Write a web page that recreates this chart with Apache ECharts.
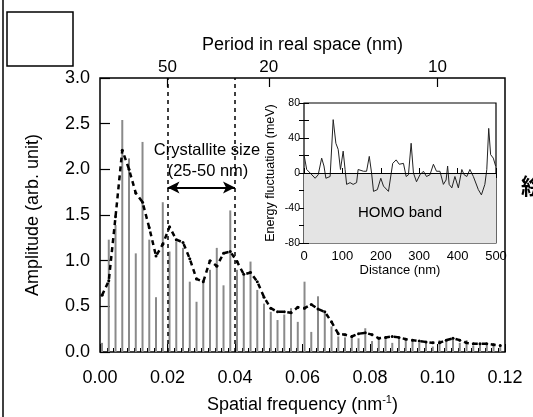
<!DOCTYPE html>
<html>
<head>
<meta charset="utf-8">
<script src="https://cdn.jsdelivr.net/npm/echarts@6/dist/echarts.min.js"></script>
<style>
  html, body { margin: 0; padding: 0; background: #fff; }
  #chart { width: 533px; height: 417px; }
</style>
</head>
<body>
<div id="chart"></div>
<script>
// spatial frequency of each bar (nm^-1)
var freq = [0.0006, 0.0026, 0.0046, 0.0066, 0.0086, 0.0106, 0.0126, 0.0146, 0.0166, 0.0186,
            0.0206, 0.0226, 0.0246, 0.0266, 0.0286, 0.0306, 0.0326, 0.0346, 0.0366, 0.0386,
            0.0406, 0.0426, 0.0446, 0.0466, 0.0486, 0.0506, 0.0526, 0.0546, 0.0566, 0.0586,
            0.0606, 0.0626, 0.0646, 0.0666, 0.0686, 0.0706, 0.0726, 0.0746, 0.0766, 0.0786,
            0.0806, 0.0826, 0.0846, 0.0866, 0.0886, 0.0906, 0.0926, 0.0946, 0.0966, 0.0986,
            0.1006, 0.1026, 0.1046, 0.1066, 0.1086, 0.1106, 0.1126, 0.1146, 0.1166, 0.1186];
// raw amplitude (bars)
var amp = [0.10, 1.23, 1.39, 2.54, 2.12, 1.08, 2.30, 1.23, 0.60, 1.64,
           1.10, 1.21, 1.14, 0.77, 0.55, 0.77, 0.90, 1.14, 0.73, 1.55,
           0.90, 0.84, 0.99, 0.68, 0.53, 0.44, 0.35, 0.41, 0.48, 0.33,
           0.77, 0.22, 0.61, 0.44, 0.28, 0.17, 0.16, 0.16, 0.15, 0.26,
           0.12, 0.14, 0.16, 0.10, 0.15, 0.12, 0.14, 0.10, 0.12, 0.06,
           0.13, 0.14, 0.16, 0.10, 0.13, 0.07, 0.10, 0.08, 0.09, 0.07];
// smoothed amplitude (dashed curve)
var smooth = [0.62, 0.78, 1.48, 2.21, 2.00, 1.74, 1.64, 1.36, 1.05, 1.18,
              1.37, 1.23, 1.20, 1.02, 0.80, 0.77, 1.00, 0.94, 1.08, 1.10,
              0.99, 0.85, 0.87, 0.77, 0.60, 0.48, 0.44, 0.44, 0.43, 0.49,
              0.48, 0.52, 0.47, 0.44, 0.33, 0.20, 0.19, 0.17, 0.20, 0.21,
              0.19, 0.15, 0.16, 0.17, 0.16, 0.14, 0.13, 0.12, 0.11, 0.10,
              0.10, 0.13, 0.15, 0.13, 0.10, 0.09, 0.09, 0.09, 0.08, 0.07];
// period ticks on the top axis (nm)
var periodTicks = [50, 20, 10];
// crystallite size range as frequency
var crystRange = [0.02, 0.04];

// inset: HOMO band energy fluctuation
var dist = [0, 7, 16, 29, 37, 46, 52, 57, 68, 76, 83, 89, 95, 102, 107, 111, 120, 128, 137, 141,
            155, 163, 170, 176, 181, 191, 200, 207, 220, 224, 231, 240, 248, 259, 266, 272, 279, 285, 293, 302,
            311, 319, 328, 337, 345, 354, 363, 370, 374, 378, 385, 393, 402, 411, 417, 424, 432, 441, 454, 462,
            471, 476, 481, 486, 493, 499];
var energy = [21, 4, 0, -6, -2, 17, 8, -6, -4, 61, 34, 27, 4, 25, 4, -13, -11, -13, -11, 4,
              2, 2, 19, 0, -21, -19, -6, -15, -21, -21, 11, 15, 10, 11, -4, -2, 34, 0, -10, -2,
              2, -4, -2, 10, 2, 2, -13, -8, 8, -13, -17, -4, -17, 4, -2, -4, 4, -4, -19, -25,
              -13, 4, 51, 21, 17, 8];

var FONT = 'Liberation Sans';
var chart = echarts.init(document.getElementById('chart'));

var barData = freq.map(function (f, i) { return [f, amp[i]]; });
var smoothData = freq.map(function (f, i) { return [f, smooth[i]]; });
var homoData = dist.map(function (d, i) { return [d, energy[i]]; });
var periodFreq = periodTicks.map(function (p) { return 1 / p; });

chart.setOption({
  backgroundColor: '#fff',
  animation: false,
  textStyle: { fontFamily: FONT, color: '#000' },
  grid: [
    { left: 100, right: 28, top: 78, bottom: 65, outerBoundsMode: 'none', containLabel: false,
      show: true, borderColor: '#000', borderWidth: 1.5, backgroundColor: 'transparent' },
    { left: 304, top: 103, width: 192, height: 140, outerBoundsMode: 'none', containLabel: false,
      show: true, borderColor: '#000', borderWidth: 1.2, backgroundColor: '#fff' }
  ],
  xAxis: [
    {
      type: 'value', gridIndex: 0, min: 0, max: 0.12, interval: 0.02,
      axisLine: { show: false }, splitLine: { show: false },
      axisTick: { inside: true, length: 8, lineStyle: { color: '#000', width: 1 } },
      minorTick: { show: true, splitNumber: 10, length: 4, lineStyle: { color: '#000' } },
      axisLabel: { fontSize: 18, color: '#000', margin: 17, formatter: function (v) { return v.toFixed(2); } },
      name: 'Spatial frequency (nm{sup|-1})', nameLocation: 'middle', nameGap: 42,
      nameTextStyle: { fontSize: 18, color: '#000', rich: { sup: { fontSize: 11, verticalAlign: 'top', padding: [0, 0, 12, 0] } } }
    },
    {
      type: 'value', gridIndex: 0, position: 'top', min: 0, max: 0.12,
      axisLine: { show: false }, splitLine: { show: false },
      axisTick: { inside: true, length: 9, customValues: periodFreq, lineStyle: { color: '#000', width: 1.2 } },
      axisLabel: { fontSize: 17, color: '#000', margin: 2, customValues: periodFreq,
                   formatter: function (v) { return String(Math.round(1 / v)); } },
      name: 'Period in real space (nm)', nameLocation: 'middle', nameGap: 20,
      nameTextStyle: { fontSize: 18, color: '#000' }
    },
    {
      type: 'value', gridIndex: 1, min: 0, max: 500, interval: 100,
      axisLine: { show: false }, splitLine: { show: false },
      axisTick: { inside: true, length: 5, lineStyle: { color: '#000' } },
      axisLabel: { fontSize: 13, color: '#000', margin: 7 },
      name: 'Distance (nm)', nameLocation: 'middle', nameGap: 20,
      nameTextStyle: { fontSize: 13, color: '#000' }
    },
    {
      type: 'value', gridIndex: 1, position: 'top', min: 0, max: 500, interval: 100,
      axisLine: { show: false }, splitLine: { show: false },
      axisTick: { inside: true, length: 5, lineStyle: { color: '#000' } },
      axisLabel: { show: false }
    }
  ],
  yAxis: [
    {
      type: 'value', gridIndex: 0, min: 0, max: 3, interval: 0.5,
      axisLine: { show: false }, splitLine: { show: false },
      axisTick: { inside: true, length: 10, lineStyle: { color: '#000', width: 1.2 } },
      axisLabel: { fontSize: 18, color: '#000', margin: 10, formatter: function (v) { return v.toFixed(1); } },
      name: 'Amplitude (arb. unit)', nameLocation: 'middle', nameGap: 58,
      nameTextStyle: { fontSize: 18, color: '#000' }
    },
    {
      type: 'value', gridIndex: 1, min: -80, max: 80, interval: 20,
      axisLine: { show: false }, splitLine: { show: false },
      axisTick: { inside: true, length: 5, lineStyle: { color: '#000' } },
      axisLabel: { fontSize: 10.5, color: '#000', margin: 4, formatter: function (v) { return v % 40 === 0 ? String(v) : ''; } },
      name: 'Energy fluctuation (meV)', nameLocation: 'middle', nameGap: 27,
      nameTextStyle: { fontSize: 12.5, color: '#000' }
    },
    {
      type: 'value', gridIndex: 1, position: 'right', min: -80, max: 80, interval: 20,
      axisLine: { show: false }, splitLine: { show: false },
      axisTick: { inside: true, length: 5, lineStyle: { color: '#000' } },
      axisLabel: { show: false }
    }
  ],
  series: [
    {
      type: 'bar', xAxisIndex: 0, yAxisIndex: 0, data: barData, barWidth: 2,
      itemStyle: { color: '#8a8a8a' },
      markLine: {
        silent: true, symbol: 'none', label: { show: false },
        lineStyle: { color: '#000', type: [4, 4], width: 1.5 },
        data: crystRange.map(function (f) { return { xAxis: f }; })
      }
    },
    {
      type: 'line', xAxisIndex: 0, yAxisIndex: 0, data: smoothData,
      symbol: 'circle', symbolSize: 3, itemStyle: { color: '#000' },
      lineStyle: { color: '#000', width: 2.5, type: [5, 4] },
      markLine: {
        silent: true, symbol: ['arrow', 'arrow'], symbolSize: [9, 12], label: { show: false },
        lineStyle: { color: '#000', type: 'solid', width: 1.8 },
        data: [[{ coord: [crystRange[0], 1.8] }, { coord: [crystRange[1], 1.8] }]]
      }
    },
    {
      type: 'line', xAxisIndex: 2, yAxisIndex: 1, data: homoData, symbol: 'none',
      lineStyle: { color: '#222', width: 1 },
      markArea: {
        silent: true, itemStyle: { color: '#e4e4e4' },
        data: [[{ yAxis: -80 }, { yAxis: 0 }]]
      },
      markLine: {
        silent: true, symbol: 'none', label: { show: false },
        lineStyle: { color: '#000', type: 'solid', width: 1 },
        data: [{ yAxis: 0 }]
      },
      z: 3
    }
  ],
  graphic: [
    { type: 'rect', shape: { x: 7, y: 12, width: 66, height: 54 }, style: { fill: 'none', stroke: '#000', lineWidth: 1.5 } },
    { type: 'line', shape: { x1: 3, y1: 0, x2: 3, y2: 417 }, style: { stroke: '#000', lineWidth: 1.5 } },
    { type: 'text', x: 207, y: 150, style: { text: 'Crystallite size', font: '16.5px "Liberation Sans"', fill: '#000', align: 'center', verticalAlign: 'middle' } },
    { type: 'text', x: 208, y: 171, style: { text: '(25-50 nm)', font: '16.5px "Liberation Sans"', fill: '#000', align: 'center', verticalAlign: 'middle' } },
    { type: 'text', x: 400, y: 213, z: 10, style: { text: 'HOMO band', font: '15px "Liberation Sans"', fill: '#000', align: 'center', verticalAlign: 'middle' } },
    { type: 'text', x: 521, y: 186, style: { text: '絵', font: 'bold 22px "Noto Sans CJK JP"', fill: '#000', align: 'left', verticalAlign: 'middle' } }
  ]
});
</script>
</body>
</html>
